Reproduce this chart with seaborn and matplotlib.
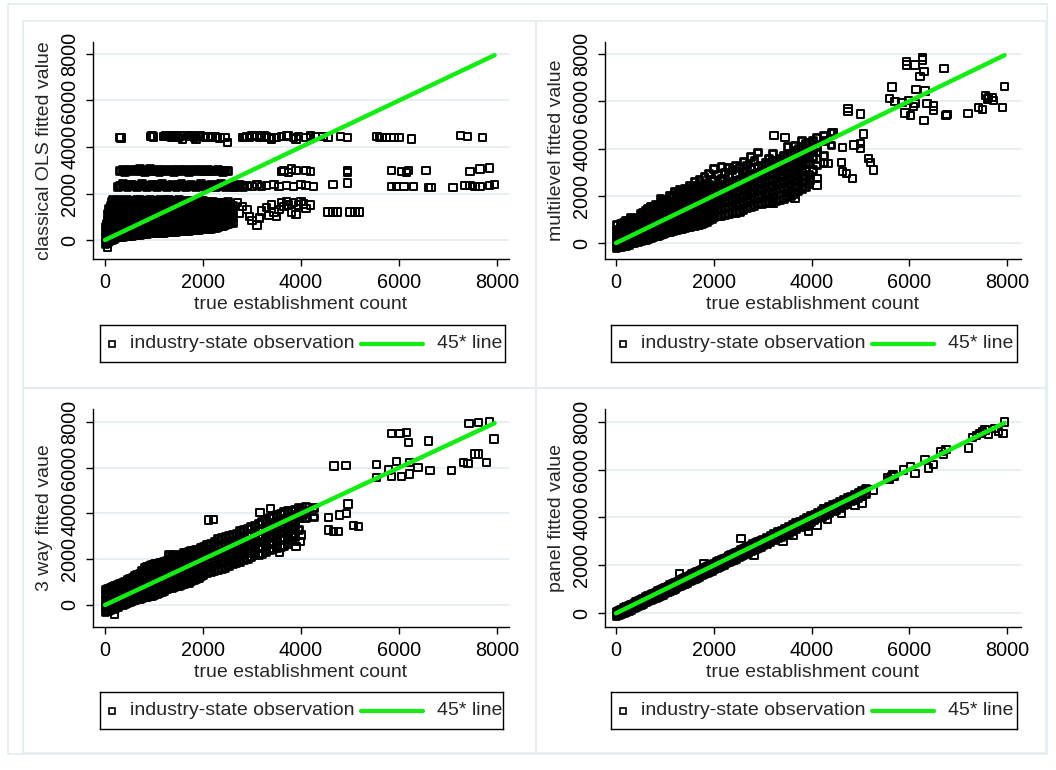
import numpy as np
import pandas as pd
import matplotlib
matplotlib.use("Agg")
import matplotlib.pyplot as plt
from matplotlib.patches import Rectangle
import seaborn as sns

# ---------- data ---------- #

ticks = [0, 2000, 4000, 6000, 8000]
tick_labels = ['0', '2000', '4000', '6000', '8000']
line_x = [0, 7950]
line_y = [0, 7950]

# classical OLS: dense blob, columns of points
ols_col_x = [0, 50, 100, 150, 200, 300, 400, 500, 600, 700, 800, 900, 1000, 1100, 1200,
             1300, 1400, 1500, 1600, 1700, 1800, 1900, 2000, 2100, 2200, 2300, 2400, 2500, 2600]
ols_col_y = [
    [-150, 100, 350, 600],
    [-50, 250, 550, 850, 1150],
    [0, 250, 500, 750, 1000, 1250, 1500],
    [50, 300, 550, 800, 1050, 1300, 1550, 1750],
    [100, 350, 600, 850, 1100, 1350, 1600],
    [150, 400, 650, 900, 1150, 1400, 1650, 1750],
    [170, 420, 660, 910, 1160, 1410, 1660],
    [200, 450, 700, 950, 1200, 1450, 1700],
    [220, 470, 720, 960, 1210, 1460, 1720],
    [250, 500, 750, 1000, 1250, 1500, 1750],
    [260, 510, 760, 1010, 1260, 1510, 1700],
    [300, 550, 800, 1050, 1300, 1550, 1750],
    [310, 560, 810, 1060, 1310, 1560, 1720],
    [330, 580, 830, 1080, 1330, 1580, 1750],
    [340, 590, 840, 1090, 1340, 1590, 1700],
    [360, 610, 860, 1110, 1360, 1610, 1740],
    [370, 620, 870, 1120, 1370, 1620, 1700],
    [390, 640, 890, 1140, 1390, 1640, 1730],
    [400, 650, 900, 1150, 1400, 1650],
    [420, 670, 920, 1170, 1420, 1680],
    [430, 680, 930, 1180, 1430, 1690],
    [450, 700, 950, 1200, 1450, 1700],
    [480, 730, 980, 1230, 1480, 1700],
    [500, 750, 1000, 1250, 1500, 1680],
    [530, 780, 1030, 1280, 1530, 1660],
    [570, 820, 1070, 1320, 1570],
    [630, 880, 1130, 1380, 1620],
    [700, 950, 1200, 1450, 1650],
    [760, 1010, 1260, 1500],
]
# in-between columns of the same blob
ols_col2_x = [25, 75, 125, 175, 250, 350, 450, 550, 650, 750, 850, 950, 1050, 1150, 1250, 1350,
              1450, 1550, 1650, 1750, 1850, 1950, 2050, 2150, 2250, 2350, 2450, 2550]
ols_col2_y = [
    [-100, 150, 400, 700],
    [-20, 130, 380, 630, 880, 1130, 1380],
    [30, 180, 430, 680, 930, 1180, 1430, 1650],
    [80, 230, 480, 730, 980, 1230, 1480, 1700],
    [130, 280, 530, 780, 1030, 1280, 1530, 1720],
    [160, 290, 530, 780, 1030, 1280, 1530, 1720],
    [190, 330, 580, 830, 1080, 1330, 1580, 1740],
    [210, 340, 590, 840, 1090, 1340, 1590, 1710],
    [240, 370, 620, 870, 1120, 1370, 1620, 1740],
    [260, 380, 630, 880, 1130, 1380, 1630, 1720],
    [280, 420, 670, 920, 1170, 1420, 1670],
    [300, 430, 680, 930, 1180, 1430, 1680],
    [320, 450, 700, 950, 1200, 1450, 1700],
    [340, 460, 710, 960, 1210, 1460, 1710],
    [350, 480, 730, 980, 1230, 1480, 1730],
    [370, 490, 740, 990, 1240, 1490, 1680],
    [380, 510, 760, 1010, 1260, 1510, 1720],
    [400, 520, 770, 1020, 1270, 1520, 1690],
    [410, 540, 790, 1040, 1290, 1540, 1700],
    [430, 560, 810, 1060, 1310, 1560, 1690],
    [440, 570, 820, 1070, 1320, 1570, 1700],
    [470, 590, 840, 1090, 1340, 1590, 1690],
    [490, 610, 860, 1110, 1360, 1610],
    [510, 630, 880, 1130, 1380, 1600],
    [550, 660, 910, 1160, 1410, 1600],
    [600, 700, 950, 1200, 1450, 1600],
    [660, 760, 1010, 1260, 1510],
    [730, 830, 1080, 1330, 1550],
]
# classical OLS: loose points below 1700 and the horizontal bands
ols_pt_x = [2700, 2800, 2750, 2900, 2950, 3000, 3100, 3150, 3200, 3300, 3350, 3400, 3450, 3500,
            3550, 3600, 3650, 3700, 3750, 3800, 3850, 3900, 3950, 4000, 4050, 4100, 4200,
            4550, 4650, 4750, 5000, 5100, 5200, 50]
ols_pt_y = [1600, 1450, 1150, 1300, 1000, 850, 650, 950, 1250, 1400, 1050, 1500, 1200, 1000,
            1300, 1600, 1450, 1650, 1500, 1200, 1600, 1100, 1500, 1650, 1550, 1350, 1500,
            1200, 1200, 1200, 1200, 1200, 1200, -300]
ols_b1_x = [250, 350, 450, 550, 650, 750, 850, 950, 1050, 1150, 1250, 1350, 1450, 1550, 1650,
            1750, 1850, 1950, 2050, 2150, 2250, 2350, 2450, 2550, 2650, 2750]
ols_b1_y = [2300, 2420, 2290, 2410, 2300, 2430, 2290, 2400, 2310, 2420, 2280, 2410, 2300, 2430,
            2290, 2400, 2300, 2420, 2280, 2410, 2300, 2420, 2290, 2400, 2310, 2380]
ols_b1b_x = [300, 400, 500, 600, 700, 800, 900, 1000, 1100, 1200, 1300, 1400, 1500, 1600, 1700,
             1800, 1900, 2000, 2100, 2200, 2300, 2400, 2500, 2600, 2700, 2800]
ols_b1b_y = [2360, 2340, 2370, 2350, 2330, 2360, 2350, 2370, 2340, 2360, 2350, 2330, 2370, 2350,
             2340, 2360, 2350, 2330, 2360, 2350, 2370, 2340, 2350, 2300, 2330, 2300]
ols_b1c_x = [2900, 3000, 3100, 3200, 3300, 3450, 3550, 3700, 3850, 4000, 4100, 4250, 4650, 4950,
             5850, 5950, 6100, 6300, 6600, 6650, 7100, 7350, 7450, 7550, 7650, 7850, 7950]
ols_b1c_y = [2350, 2300, 2400, 2300, 2350, 2400, 2300, 2350, 2300, 2400, 2350, 2300, 2400, 2450,
             2300, 2300, 2300, 2300, 2250, 2250, 2250, 2350, 2350, 2300, 2300, 2350, 2400]
ols_b2_x = [300, 400, 500, 600, 700, 800, 900, 1000, 1100, 1200, 1300, 1400, 1500, 1600, 1700,
            1800, 1900, 2000, 2100, 2200, 2300, 2400, 2500]
ols_b2_y = [3000, 2950, 3050, 2980, 3100, 2950, 3060, 3000, 2940, 3040, 3000, 2960, 3050, 3010,
            2950, 3040, 3000, 2970, 3050, 2990, 3020, 2950, 3000]
ols_b2b_x = [350, 450, 550, 650, 750, 850, 950, 1050, 1150, 1250, 1350, 1450, 1550, 1650, 1750,
             1850, 1950, 2050, 2150, 2250, 2350, 2450]
ols_b2b_y = [3020, 2990, 3010, 3030, 2980, 3010, 3000, 3020, 2990, 3010, 3030, 2990, 3000, 3020,
             2990, 3010, 3030, 3000, 2980, 3010, 3000, 2990]
ols_b2c_x = [3600, 3650, 3750, 3800, 3900, 4100, 4200, 4950, 4950, 5850, 6050, 6150, 6200, 6550,
             7450, 7650, 7850]
ols_b2c_y = [2950, 3000, 2900, 3050, 3000, 3000, 2950, 3000, 2900, 3000, 2950, 2900, 3000, 3000,
             2950, 3050, 3100]
ols_b3 = [(300, 4400), (330, 4380), (930, 4450), (960, 4480), (990, 4430), (1200, 4450),
          (1240, 4500), (1280, 4440), (1320, 4480), (1360, 4400), (1400, 4500), (1450, 4450),
          (1500, 4420), (1540, 4480), (1580, 4350), (1700, 4500), (1740, 4450), (1780, 4480),
          (1820, 4420), (1860, 4350), (1900, 4450), (1950, 4480), (2000, 4450), (2050, 4420),
          (2100, 4460), (2150, 4450), (2200, 4400), (2250, 4430), (2300, 4400), (2350, 4380),
          (2450, 4400), (2500, 4200), (2800, 4400), (2850, 4420), (2900, 4450), (2950, 4400),
          (3000, 4500), (3050, 4450), (3100, 4500), (3150, 4420), (3200, 4400), (3250, 4480),
          (3300, 4450), (3350, 4400), (3400, 4350), (3450, 4420), (3500, 4400), (3600, 4450),
          (3700, 4480), (3750, 4500), (3850, 4420), (3900, 4350), (3950, 4450), (4100, 4400),
          (4200, 4500), (4300, 4450), (4450, 4450), (4550, 4400), (4800, 4450), (4950, 4400),
          (5550, 4450), (5600, 4420), (5650, 4400), (5750, 4400), (5900, 4400), (6000, 4400),
          (6250, 4350), (7250, 4500), (7400, 4450), (7700, 4400)]

# multilevel
ml_col_x = [0, 100, 200, 300, 400, 500, 600, 700, 800, 900, 1000, 1100, 1200, 1300, 1400, 1500,
            1600, 1700, 1800, 1900, 2000, 2150, 2300, 2450, 2600, 2750, 2900, 3050, 3200, 3350,
            3500, 3650, 3800, 3950, 4100, 4250, 4400]
ml_col_y = [
    [-200, 50, 300, 550, 800],
    [-150, 100, 350, 600, 850],
    [-100, 150, 400, 650, 950],
    [0, 250, 500, 750, 1100],
    [50, 300, 550, 800, 1050],
    [100, 350, 600, 850, 1100, 1250],
    [150, 400, 650, 900, 1150, 1400],
    [250, 500, 750, 1000, 1250, 1550],
    [300, 550, 800, 1050, 1300, 1650],
    [350, 600, 850, 1100, 1350, 1600, 1900],
    [450, 700, 950, 1200, 1450, 1700, 1850],
    [500, 750, 1000, 1250, 1500, 1750, 2000],
    [550, 800, 1050, 1300, 1550, 1800, 2200],
    [600, 850, 1100, 1350, 1600, 1850, 2250],
    [650, 900, 1150, 1400, 1650, 1900, 2300],
    [700, 950, 1200, 1450, 1700, 1950, 2450],
    [750, 1000, 1250, 1500, 1750, 2000, 2250, 2600],
    [800, 1050, 1300, 1550, 1800, 2050, 2300, 2700],
    [850, 1100, 1350, 1600, 1850, 2100, 2400, 2800],
    [1000, 1250, 1500, 1750, 2000, 2250, 2500, 2950],
    [1100, 1350, 1600, 1850, 2100, 2350, 2650, 3150],
    [1150, 1450, 1700, 1950, 2200, 2450, 2750, 3250],
    [1250, 1550, 1800, 2050, 2300, 2550, 2850, 3200],
    [1300, 1650, 1900, 2150, 2400, 2650, 2950, 3300],
    [1400, 1750, 2000, 2250, 2500, 2750, 3050, 3450],
    [1550, 1900, 2150, 2400, 2650, 2900, 3150, 3650],
    [1650, 2000, 2250, 2500, 2750, 3000, 3250, 3850],
    [1700, 2100, 2350, 2600, 2850, 3100, 3400],
    [1750, 2200, 2450, 2700, 2950, 3200, 3500, 3800],
    [1850, 2300, 2550, 2800, 3050, 3300, 3600],
    [1950, 2400, 2700, 2950, 3200, 3450, 3750, 4100],
    [2100, 2600, 2850, 3100, 3350, 3600, 3900, 4150],
    [2300, 2800, 3050, 3300, 3550, 3800, 4100, 4350],
    [2500, 2900, 3350, 3700, 3950, 4250],
    [3300, 3850, 4100, 4450],
    [3400, 3700, 4350, 4550],
    [4150, 4700],
]
ml_col2_x = [50, 150, 250, 350, 450, 550, 650, 750, 850, 950, 1050, 1150, 1250, 1350, 1450, 1550,
             1650, 1750, 1850, 1950, 2075, 2225, 2375, 2525, 2675, 2825, 2975, 3125, 3275, 3425,
             3575, 3725, 3875, 4025]
ml_col2_y = [
    [-170, 80, 330, 580],
    [-120, 130, 380, 630, 880],
    [-50, 200, 450, 700, 950],
    [20, 270, 520, 770, 1000],
    [80, 330, 580, 830, 1100],
    [130, 380, 630, 880, 1130, 1300],
    [200, 450, 700, 950, 1200, 1450],
    [270, 520, 770, 1020, 1270, 1550],
    [330, 580, 830, 1080, 1330, 1600],
    [400, 650, 900, 1150, 1400, 1650, 1800],
    [480, 730, 980, 1230, 1480, 1730],
    [520, 770, 1020, 1270, 1520, 1770, 2000],
    [580, 830, 1080, 1330, 1580, 1830, 2100],
    [620, 870, 1120, 1370, 1620, 1870, 2150],
    [680, 930, 1180, 1430, 1680, 1930, 2250],
    [730, 980, 1230, 1480, 1730, 1980, 2300],
    [780, 1030, 1280, 1530, 1780, 2030, 2450],
    [830, 1080, 1330, 1580, 1830, 2080, 2350],
    [900, 1150, 1400, 1650, 1900, 2150, 2500],
    [1050, 1300, 1550, 1800, 2050, 2300, 2700],
    [1150, 1400, 1650, 1900, 2150, 2400, 2900],
    [1200, 1500, 1750, 2000, 2250, 2500, 3000],
    [1280, 1600, 1850, 2100, 2350, 2600, 3100],
    [1350, 1700, 1950, 2200, 2450, 2700, 3200],
    [1480, 1820, 2070, 2320, 2570, 2820, 3300],
    [1600, 1950, 2200, 2450, 2700, 2950, 3500],
    [1680, 2050, 2300, 2550, 2800, 3050, 3300],
    [1720, 2150, 2400, 2650, 2900, 3150, 3600],
    [1800, 2250, 2500, 2750, 3000, 3250, 3500],
    [1900, 2350, 2600, 2850, 3100, 3350, 3700],
    [2000, 2500, 2750, 3000, 3250, 3500, 3800],
    [2200, 2700, 2950, 3200, 3450, 3700, 4000],
    [2400, 2850, 3100, 3350, 3600, 3850, 4200],
    [3100, 3650, 3900, 4350],
]
ml_pt_x = [5950, 5950, 6120, 6270, 6270, 6300, 6220, 6710, 5650, 6140, 6320, 7950,
           5600, 5710, 5850, 5980, 6120, 6080, 5910, 6030, 6360, 6490, 6500, 6300, 6750, 6770,
           7200, 7410, 7500, 7620, 7690, 7720, 7910, 7560, 7600, 4750, 4750, 5000,
           3230, 3460, 4450, 4630, 4870, 5060, 5000, 5000, 5170, 5210, 5270, 4620, 4630, 4720,
           4840, 4340, 4110, 4110, 3970, 3700, 3660, 3490, 3220, 3220, 3080]
ml_pt_y = [7670, 7530, 7530, 7850, 7740, 7250, 7040, 7390, 6610, 6510, 6440, 6620,
           6120, 5980, 5940, 6020, 5910, 5770, 5510, 5410, 5910, 5800, 5600, 5180, 5400, 5430,
           5490, 5730, 5650, 6160, 6160, 6020, 5730, 6250, 6100, 5700, 5560, 5460,
           4540, 4470, 4680, 4030, 4150, 4610, 4220, 4000, 3580, 3400, 3090, 3410, 3020, 2950,
           2740, 3370, 2740, 2450, 2670, 2380, 1890, 1960, 1680, 1890, 2100]

# 3 way
tw_col_x = [0, 100, 200, 300, 400, 500, 600, 700, 800, 900, 1000, 1100, 1200, 1300, 1400, 1500,
            1600, 1700, 1800, 1900, 2000, 2150, 2300, 2450, 2600, 2750, 2900, 3050, 3200, 3350,
            3500, 3650, 3800, 3950, 4100, 4250]
tw_col_y = [
    [-300, -50, 200, 450, 700],
    [-200, 50, 300, 550, 750],
    [-100, 150, 400, 650, 850],
    [0, 250, 500, 750, 950],
    [50, 300, 550, 800, 1050],
    [150, 400, 650, 900, 1150],
    [250, 500, 750, 1000, 1300],
    [300, 550, 800, 1050, 1400],
    [350, 600, 850, 1100, 1350, 1650],
    [400, 650, 900, 1150, 1400, 1750],
    [450, 700, 950, 1200, 1450, 1800],
    [550, 800, 1050, 1300, 1550, 1850],
    [650, 900, 1150, 1400, 1650, 1900],
    [750, 1000, 1250, 1500, 1750, 2000, 2200],
    [800, 1050, 1300, 1550, 1800, 2200],
    [850, 1100, 1350, 1600, 1850, 2150],
    [950, 1200, 1450, 1700, 1950, 2300],
    [1000, 1250, 1500, 1750, 2000, 2350],
    [1100, 1350, 1600, 1850, 2100, 2400],
    [1200, 1450, 1700, 1950, 2200, 2450],
    [1350, 1600, 1850, 2100, 2350, 2550],
    [1450, 1700, 1950, 2200, 2450, 2700],
    [1550, 1800, 2050, 2300, 2550, 2900],
    [1650, 1900, 2150, 2400, 2650, 3000],
    [1800, 2000, 2250, 2500, 2750, 3100],
    [1900, 2150, 2400, 2650, 2900, 3250],
    [2050, 2300, 2550, 2800, 3050, 3350],
    [2200, 2450, 2700, 2950, 3200, 3500],
    [2250, 2550, 2800, 3050, 3300, 3650],
    [2400, 2700, 2950, 3200, 3450, 3850],
    [2500, 2850, 3100, 3350, 3600, 3950],
    [2600, 2950, 3200, 3450, 3700, 4100],
    [2800, 3100, 3350, 3600, 3850, 4150],
    [3300, 3800, 4050, 4250],
    [3800, 4100, 4300],
    [3850, 4250],
]
tw_col2_x = [50, 150, 250, 350, 450, 550, 650, 750, 850, 950, 1050, 1150, 1250, 1350, 1450, 1550,
             1650, 1750, 1850, 1950, 2075, 2225, 2375, 2525, 2675, 2825, 2975, 3125, 3275, 3425,
             3575, 3725, 3875, 4025]
tw_col2_y = [
    [-250, 0, 250, 500, 720],
    [-150, 100, 350, 600, 800],
    [-50, 200, 450, 700, 900],
    [30, 280, 530, 780, 1000],
    [100, 350, 600, 850, 1100],
    [200, 450, 700, 950, 1220],
    [280, 530, 780, 1030, 1350],
    [330, 580, 830, 1080, 1330, 1500],
    [380, 630, 880, 1130, 1380, 1700],
    [430, 680, 930, 1180, 1430, 1780],
    [500, 750, 1000, 1250, 1500, 1820],
    [600, 850, 1100, 1350, 1600, 1880],
    [700, 950, 1200, 1450, 1700, 1950],
    [780, 1030, 1280, 1530, 1780, 2150],
    [830, 1080, 1330, 1580, 1830, 2100],
    [900, 1150, 1400, 1650, 1900, 2200],
    [980, 1230, 1480, 1730, 1980, 2300],
    [1050, 1300, 1550, 1800, 2050, 2380],
    [1150, 1400, 1650, 1900, 2150, 2420],
    [1280, 1530, 1780, 2030, 2280, 2500],
    [1400, 1650, 1900, 2150, 2400, 2650],
    [1500, 1750, 2000, 2250, 2500, 2800],
    [1600, 1850, 2100, 2350, 2600, 2950],
    [1720, 1950, 2200, 2450, 2700, 3050],
    [1850, 2080, 2330, 2580, 2830, 3150],
    [1980, 2230, 2480, 2730, 2980, 3300],
    [2120, 2370, 2620, 2870, 3120, 3420],
    [2220, 2500, 2750, 3000, 3250, 3580],
    [2320, 2620, 2870, 3120, 3370, 3750],
    [2450, 2780, 3030, 3280, 3530, 3900],
    [2550, 2900, 3150, 3400, 3650, 4000],
    [2700, 3020, 3270, 3520, 3770, 4120],
    [3000, 3450, 3700, 3950, 4200],
    [3950, 4200],
]
tw_pt_x = [7430, 7620, 7850, 7940, 5850, 6020, 6150, 6190, 6600,
           4670, 4920, 5540, 5950, 6220, 6390, 6630, 7070, 7310, 7410, 7550, 7620, 7790,
           5540, 5850, 6050, 6220, 5780, 4960, 4930, 4790, 4560, 4560, 4660, 4760, 5070, 5170,
           2110, 2210, 3160, 3380, 3560, 3900, 3980, 4010, 3840, 2750, 2550, 3060, 3160, 200]
tw_pt_y = [7940, 7970, 8010, 7260, 7500, 7500, 7530, 7100, 7170,
           6080, 6090, 6150, 6270, 6220, 6020, 5870, 5870, 6220, 6190, 6600, 6600, 6220,
           5580, 5610, 5610, 5730, 5900, 4420, 4010, 3930, 3830, 3280, 3200, 3200, 3470, 3420,
           3720, 3750, 4050, 4230, 2290, 2550, 2770, 3060, 2990, 1890, 1940, 2290, 2550, -410]

# panel
pn_col_x = [0, 100, 200, 300, 400, 500, 600, 700, 800, 900, 1000, 1100, 1200, 1300, 1400, 1500,
            1600, 1700, 1800, 1900, 2000, 2100, 2200, 2300, 2400, 2500, 2600, 2700, 2800, 2900,
            3000, 3150, 3300, 3450, 3600, 3750, 3900, 4050, 4200, 4350, 4500, 4650, 4800, 4950,
            5100]
pn_lo = [-100, -20, 80, 170, 270, 370, 470, 560, 660, 750, 850, 950, 1050, 1150, 1250, 1350,
         1440, 1550, 1650, 1750, 1850, 1950, 2040, 2150, 2250, 2350, 2450, 2540, 2650, 2750,
         2850, 3000, 3150, 3300, 3440, 3600, 3750, 3900, 4050, 4200, 4350, 4550, 4700, 4850,
         5000]
pn_hi = [100, 180, 280, 380, 480, 580, 690, 780, 880, 990, 1090, 1200, 1300, 1400, 1500, 1600,
         1700, 1800, 1900, 2000, 2100, 2200, 2300, 2400, 2500, 2600, 2700, 2800, 2900, 3000,
         3100, 3250, 3400, 3550, 3700, 3850, 4000, 4150, 4300, 4450, 4600, 4750, 4900, 5050,
         5200]
pn_col2_x = [50, 150, 250, 350, 450, 550, 650, 750, 850, 950, 1050, 1150, 1250, 1350, 1450, 1550,
             1650, 1750, 1850, 1950, 2050, 2150, 2250, 2350, 2450, 2550, 2650, 2750, 2850, 2950,
             3075, 3225, 3375, 3525, 3675, 3825, 3975, 4125, 4275, 4425, 4575, 4725, 4875, 5025]
pn_lo2 = [-60, 30, 120, 220, 320, 420, 510, 610, 710, 800, 900, 1000, 1100, 1200, 1300, 1400,
          1500, 1600, 1700, 1800, 1900, 1990, 2100, 2200, 2300, 2400, 2500, 2600, 2700, 2800,
          2920, 3070, 3220, 3370, 3520, 3680, 3830, 3980, 4120, 4280, 4430, 4600, 4760, 4920]
pn_hi2 = [140, 240, 330, 430, 530, 640, 730, 830, 940, 1040, 1140, 1250, 1350, 1450, 1550, 1650,
          1750, 1850, 1950, 2050, 2150, 2250, 2350, 2450, 2550, 2650, 2750, 2850, 2950, 3050,
          3180, 3330, 3480, 3630, 3780, 3930, 4080, 4230, 4380, 4530, 4680, 4830, 4980, 5130]
pn_pt_x = [7950, 7210, 7370, 7550, 7750, 7920, 7820, 7450, 7620, 6700, 6750, 6490, 6320, 6390,
           6120, 6020, 5880, 5640, 5670, 5270, 5060, 5030, 4890, 4750, 4620, 4330, 4240, 4110,
           3940, 3900, 3420, 3630, 2560, 2820, 1800, 1300, 5550, 5600, 5700, 6650, 7300, 7500]
pn_pt_y = [7990, 6900, 7410, 7660, 7710, 7520, 7590, 7520, 7460, 6620, 6830, 6200, 6410, 6060,
           5850, 6130, 5990, 5710, 5780, 5150, 5080, 4590, 4520, 4730, 4170, 3920, 4380, 3690,
           3410, 3620, 3020, 3270, 3130, 2430, 2080, 1650, 5650, 5600, 5720, 6750, 7350, 7600]

# ---------- helpers ---------- #

W, H = 1056, 770
green = '#14ec14'
frame_col = '#e4ecef'


def frac(l, t, r, b):
    return [l / W, 1 - b / H, (r - l) / W, (b - t) / H]


def expand(col_x, col_y):
    xs, ys = [], []
    for x, col in zip(col_x, col_y):
        xs += [x] * len(col)
        ys += list(col)
    return xs, ys


def panel(ax, core, loose, ylabel, xlim, ylim):
    ax.yaxis.grid(True, color='#e6eef1', lw=1.3)
    ax.set_axisbelow(True)
    # dense core: many overlapping squares in the original, drawn with heavier edges here
    sns.scatterplot(data=core, x='x', y='y', ax=ax, marker='s', s=24,
                    facecolors='none', edgecolor='black', linewidth=2.0,
                    legend=False, zorder=2)
    sns.scatterplot(data=loose, x='x', y='y', ax=ax, marker='s', s=28,
                    facecolors='none', edgecolor='black', linewidth=1.4,
                    legend=False, zorder=2)
    sns.lineplot(x=line_x, y=line_y, ax=ax, color=green, lw=3.2, zorder=3)
    ax.set_xlim(*xlim)
    ax.set_ylim(*ylim)
    ax.set_xticks(ticks)
    ax.set_xticklabels(tick_labels)
    ax.set_yticks(ticks)
    ax.set_yticklabels(tick_labels, rotation=90, va='center')
    ax.tick_params(direction='out', length=5, width=1, pad=5, labelsize=14.3,
                   color='black', labelcolor='black', left=True, bottom=True)
    for s in ['top', 'right']:
        ax.spines[s].set_visible(False)
    for s in ['left', 'bottom']:
        ax.spines[s].set_color('black')
        ax.spines[s].set_linewidth(1.0)
    ax.set_xlabel('true establishment count', fontsize=14, labelpad=3)
    ax.set_ylabel(ylabel, fontsize=14, labelpad=5)


def add_legend(fig, l, t, r, b):
    lax = fig.add_axes(frac(l, t, r, b))
    w, h = r - l, b - t
    lax.set_xlim(0, w)
    lax.set_ylim(0, h)
    lax.set_xticks([])
    lax.set_yticks([])
    for s in lax.spines.values():
        s.set_color('black')
        s.set_linewidth(1.0)
    lax.plot([12], [h / 2], marker='s', ms=4.6, mfc='none', mec='black', mew=1.2, ls='none')
    lax.text(30, h / 2, 'industry-state observation', va='center', fontsize=14)
    lax.plot([261, 323], [h / 2, h / 2], color=green, lw=3)
    lax.text(337, h / 2, '45* line', va='center', fontsize=14, clip_on=True)


# ---------- plot ---------- #

sns.set_theme(style='white')
plt.rcParams['font.family'] = ['Liberation Sans', 'DejaVu Sans']

fig = plt.figure(figsize=(W / 100, H / 100), dpi=100)
fig.patch.set_facecolor('white')

# light frames of the combined graph
for (l, t, r, b) in [(8, 4, 1047, 754), (23, 21, 536, 388), (536, 21, 1046, 388),
                     (23, 388, 536, 753), (536, 388, 1046, 753)]:
    fig.add_artist(Rectangle((l / W, 1 - b / H), (r - l) / W, (b - t) / H,
                             transform=fig.transFigure, fill=False,
                             edgecolor=frame_col, lw=1.2))

ox, oy = expand(ols_col_x, ols_col_y)
ox2, oy2 = expand(ols_col2_x, ols_col2_y)
ols_core = pd.DataFrame({'x': ox + ox2 + ols_b1_x + ols_b1b_x + ols_b2_x + ols_b2b_x,
                         'y': oy + oy2 + ols_b1_y + ols_b1b_y + ols_b2_y + ols_b2b_y})
ols_loose = pd.DataFrame({'x': ols_pt_x + ols_b1c_x + ols_b2c_x + [p[0] for p in ols_b3],
                          'y': ols_pt_y + ols_b1c_y + ols_b2c_y + [p[1] for p in ols_b3]})
mx, my = expand(ml_col_x, ml_col_y)
mx2, my2 = expand(ml_col2_x, ml_col2_y)
ml_core = pd.DataFrame({'x': mx + mx2, 'y': my + my2})
ml_loose = pd.DataFrame({'x': ml_pt_x, 'y': ml_pt_y})
tx, ty = expand(tw_col_x, tw_col_y)
tx2, ty2 = expand(tw_col2_x, tw_col2_y)
tw_core = pd.DataFrame({'x': tx + tx2, 'y': ty + ty2})
tw_loose = pd.DataFrame({'x': tw_pt_x, 'y': tw_pt_y})
pn_core = pd.DataFrame({'x': pn_col_x + pn_col_x + pn_col2_x + pn_col2_x,
                        'y': pn_lo + pn_hi + pn_lo2 + pn_hi2})
pn_loose = pd.DataFrame({'x': pn_pt_x, 'y': pn_pt_y})

ax1 = fig.add_axes(frac(93, 42, 509, 259))
panel(ax1, ols_core, ols_loose, 'classical OLS fitted value', (-245, 8245), (-817, 8516))
ax2 = fig.add_axes(frac(605, 42, 1021, 259))
panel(ax2, ml_core, ml_loose, 'multilevel fitted value', (-225, 8286), (-677, 8508))
ax3 = fig.add_axes(frac(93, 409, 509, 627))
panel(ax3, tw_core, tw_loose, '3 way fitted vaue', (-245, 8245), (-962, 8568))
ax4 = fig.add_axes(frac(605, 409, 1021, 627))
panel(ax4, pn_core, pn_loose, 'panel fitted value', (-225, 8286), (-572, 8530))

add_legend(fig, 100, 325, 505, 362)
add_legend(fig, 611, 325, 1017, 362)
add_legend(fig, 100, 692, 503, 729)
add_legend(fig, 611, 692, 1017, 729)

fig.savefig('out.png', dpi=100, facecolor='white')
